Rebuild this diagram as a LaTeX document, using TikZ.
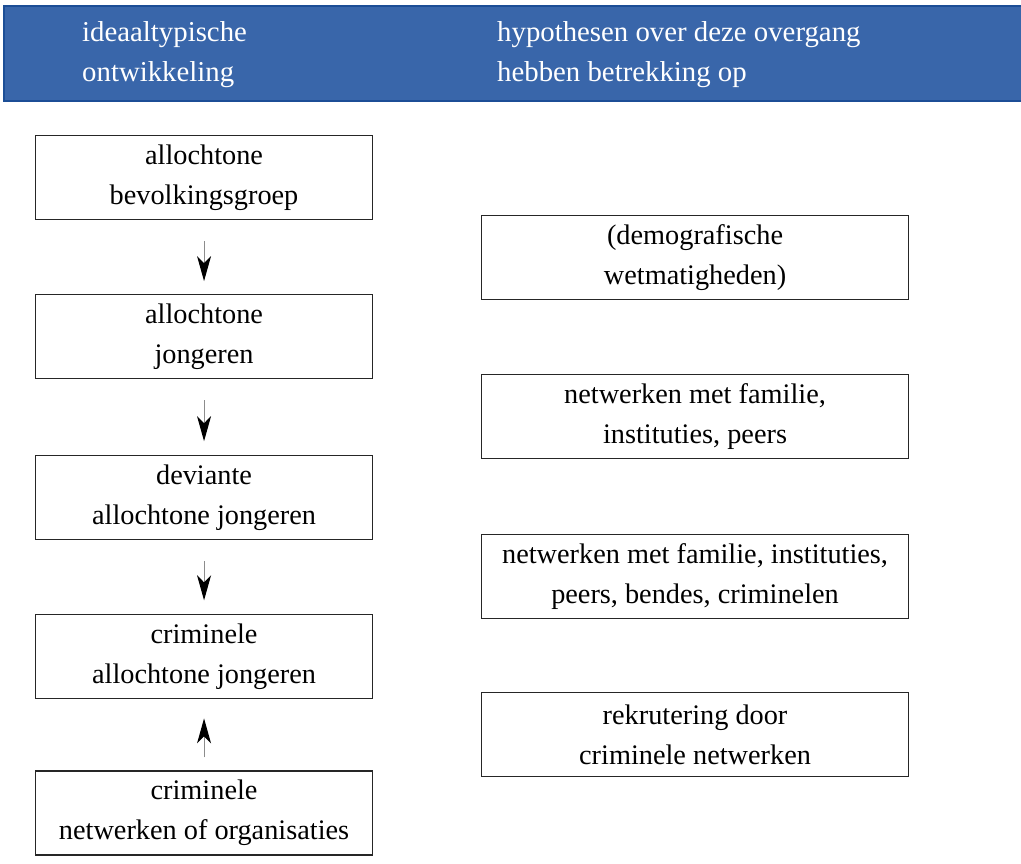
\documentclass[tikz,border=0pt]{standalone}
\usepackage{fontspec}
\setmainfont{Liberation Serif}
\usepackage{xcolor}
\usetikzlibrary{positioning,arrows.meta}

\definecolor{hdrblue}{RGB}{57,102,170}
\definecolor{hdrline}{RGB}{28,78,150}

\begin{document}
\begin{tikzpicture}[
  x=1pt, y=1pt,
  font=\fontsize{28.3}{40}\selectfont,
  box/.style={draw=black!85, line width=1.1pt, align=center,
              minimum height=84pt, inner sep=0pt, fill=white},
  lbox/.style={box, minimum width=337pt},
  rbox/.style={box, minimum width=427pt},
  hdrtxt/.style={text=white, align=left, anchor=west, inner sep=0pt,
                 font=\fontsize{28.8}{40}\selectfont},
  arr/.style={draw=black!45, line width=1.1pt,
              -{Stealth[length=25pt, width=14pt, inset=7pt, black]}},
  node distance=74pt
]
\useasboundingbox (0,0) rectangle (1021,-863);

% header band
\node[fill=hdrblue, draw=hdrline, line width=1.5pt, minimum width=1018pt,
      minimum height=95pt, anchor=north west, inner sep=0pt] (hdr) at (3,-5) {};
\node[hdrtxt] (hl) at (82,-55) {ideaaltypische\\ontwikkeling};
\node[hdrtxt] (hr) at (497,-55) {hypothesen over deze overgang\\hebben betrekking op};

% left column
\node[lbox, anchor=north west] (bev) at (35,-135) {allochtone\\bevolkingsgroep};
\node[lbox, below=74pt of bev] (jong) {allochtone\\jongeren};
\node[lbox, below=76pt of jong] (dev) {deviante\\allochtone jongeren};
\node[lbox, below=74pt of dev] (crim) {criminele\\allochtone jongeren};
\node[lbox, below=71pt of crim] (netw) {criminele\\netwerken of organisaties};

% right column
\node[rbox, anchor=north west] (demo) at (481,-215) {(demografische\\wetmatigheden)};
\node[rbox, below=74pt of demo] (fam) {netwerken met familie,\\instituties, peers};
\node[rbox, below=75pt of fam] (bend) {netwerken met familie, instituties,\\peers, bendes, criminelen};
\node[rbox, below=73pt of bend] (rekr) {rekrutering door\\criminele netwerken};

% arrows
\draw[arr, shorten <=21pt, shorten >=13pt] (bev) -- (jong);
\draw[arr, shorten <=21pt, shorten >=14pt] (jong) -- (dev);
\draw[arr, shorten <=21pt, shorten >=14pt] (dev) -- (crim);
\draw[arr, shorten <=13pt, shorten >=19pt] (netw) -- (crim);
\end{tikzpicture}
\end{document}
